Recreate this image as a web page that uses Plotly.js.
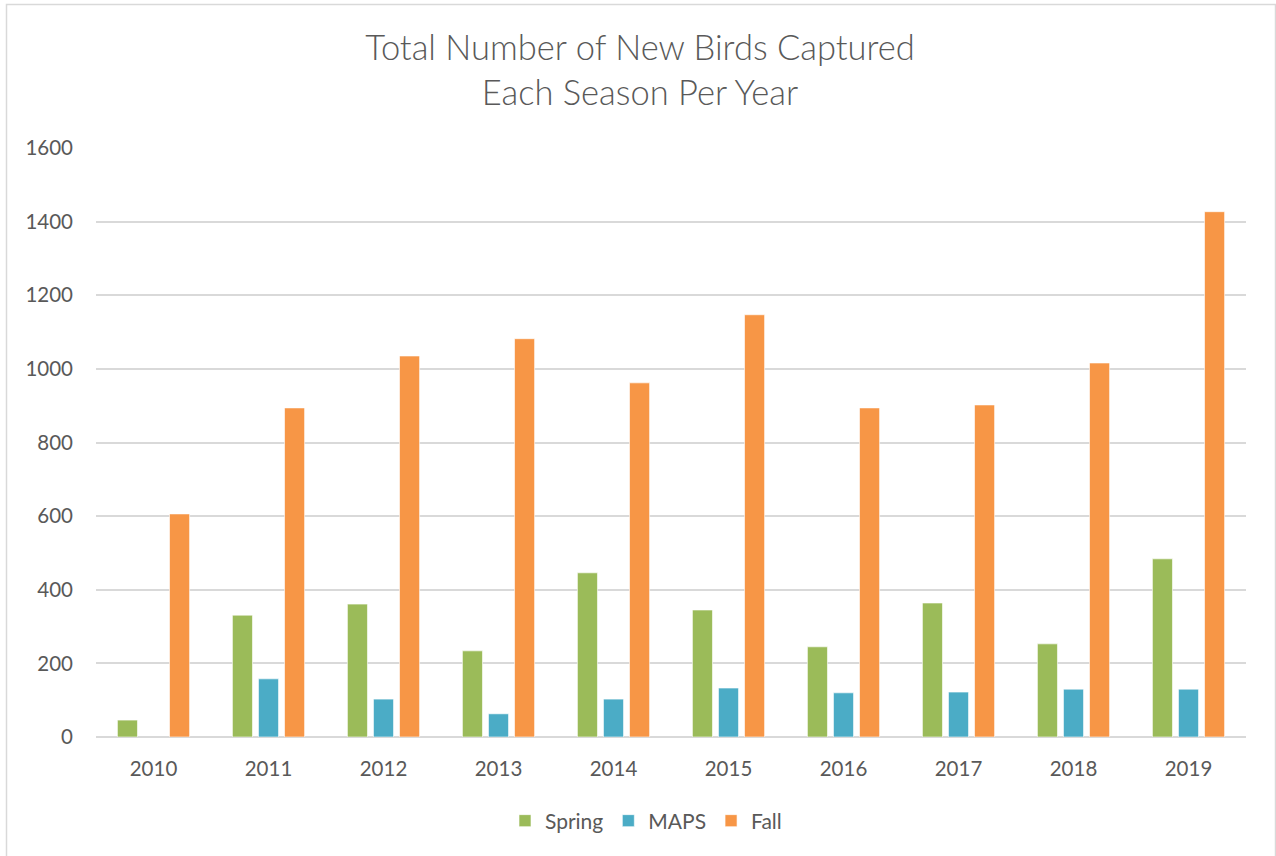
<!DOCTYPE html>
<html>
<head>
<meta charset="utf-8">
<script src="https://cdn.plot.ly/plotly-3.0.1.min.js"></script>
<style>html,body{margin:0;padding:0;background:#fff;}#chart{width:1276px;height:856px;}</style>
</head>
<body>
<div id="chart"></div>
<script>
const years = ['2010','2011','2012','2013','2014','2015','2016','2017','2018','2019'];
const spring = [46, 331, 361, 234, 446, 345, 245, 364, 253, 484];
const maps = [null, 158, 103, 63, 103, 133, 120, 122, 130, 130];
const fall = [606, 894, 1035, 1082, 962, 1147, 894, 902, 1016, 1427];
const seriesNames = ['Spring', 'MAPS', 'Fall'];
const seriesColors = ['#9BBB59', '#4BACC6', '#F79646'];
const yTicks = [0, 200, 400, 600, 800, 1000, 1200, 1400, 1600];

const seriesValues = [spring, maps, fall];
const traces = seriesValues.map((vals, i) => ({
  type: 'bar',
  name: seriesNames[i],
  x: years,
  y: vals,
  marker: {color: seriesColors[i], line: {color: 'rgba(255,255,255,0.6)', width: 1}},
  hoverinfo: 'x+y+name'
}));

const L = 96, R = 1246, T = 148, B = 737;
const px2x = p => (p - L) / (R - L);
const py2y = p => (B - p) / (B - T);

const layout = {
  width: 1276, height: 856,
  margin: {l: L, r: 1276 - R, t: T, b: 856 - B, autoexpand: false},
  paper_bgcolor: '#ffffff', plot_bgcolor: '#ffffff',
  font: {family: 'Lato, "Open Sans", sans-serif', color: '#595959', size: 20},
  title: {
    text: 'Total Number of New Birds Captured<br>Each Season Per Year',
    font: {family: 'Lato, "Open Sans", sans-serif', size: 34.5, color: '#595959', weight: 300},
    x: 640/1276, xanchor: 'center', xref: 'container',
    y: 1 - 60/856, yanchor: 'middle', yref: 'container'
  },
  barmode: 'group',
  bargap: 0.32,
  bargroupgap: 0.23,
  xaxis: {
    type: 'category', tickangle: 0, automargin: false,
    showgrid: false, zeroline: false, showline: false,
    ticks: '', tickfont: {size: 20.5, color: '#595959'},
    ticklabelstandoff: 17
  },
  yaxis: {
    range: [0, 1600], tickvals: yTicks, automargin: false,
    showgrid: true, gridcolor: '#D9D9D9', gridwidth: 1.5,
    zeroline: true, zerolinecolor: '#D9D9D9', zerolinewidth: 1.5,
    showline: false, ticks: '',
    tickfont: {size: 20.5, color: '#595959'},
    ticklabelstandoff: 22
  },
  legend: {
    orientation: 'h', xref: 'paper', x: px2x(646), xanchor: 'center',
    y: py2y(821), yanchor: 'middle',
    font: {size: 21, color: '#595959'},
    itemwidth: 30, traceorder: 'normal'
  },
  shapes: [{
    type: 'rect', xref: 'paper', yref: 'paper',
    x0: px2x(6.5), x1: px2x(1275.5), y0: py2y(900), y1: py2y(4.5),
    line: {color: '#D9D9D9', width: 1.5}, fillcolor: 'rgba(0,0,0,0)', layer: 'below'
  }],
  showlegend: true
};

Plotly.newPlot('chart', traces, layout, {displayModeBar: false, staticPlot: false});
</script>
</body>
</html>
